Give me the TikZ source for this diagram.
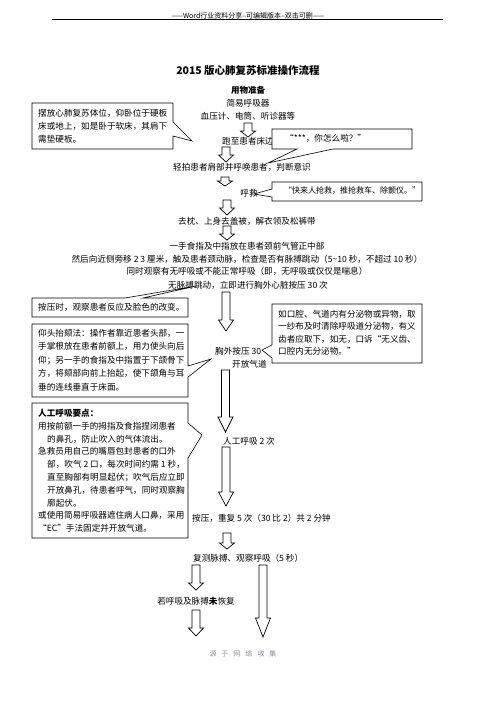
\documentclass[tikz,border=0pt]{standalone}
\usepackage{fontspec}
\setmainfont{Noto Sans CJK SC}
\newcommand\blockdown[4]{%
  \path[barrowstyle] (#1-4,#2) -- (#1+4,#2) -- (#1+4,#3) -- (#1+7.5,#3) -- (#1,#4) -- (#1-7.5,#3) -- (#1-4,#3) -- cycle;}
\tikzset{
  txt/.style={inner sep=0pt, font=\fontsize{8.6}{12.8}\selectfont},
  boxtxt/.style={inner sep=0pt, align=left, anchor=north west},
  callout/.style={draw, fill=white, line width=0.6pt, line join=miter},
  barrowstyle/.style={draw, fill=white, line width=0.7pt, line join=miter},
}
\begin{document}
\begin{tikzpicture}[x=1pt,y=-1pt]
\useasboundingbox (0,0) rectangle (496,702);
% header
\node[inner sep=0pt, font=\fontsize{7}{8}\selectfont] (hdr) at (248,16) {——Word行业资料分享--可编辑版本--双击可删——};
\draw[line width=0.6pt] (52,19.5) -- (443,19.5);
% title
\node[inner sep=0pt, font=\fontsize{10.5}{12}\selectfont\bfseries] (title) at (248,71) {2015 版心肺复苏标准操作流程};
\node[inner sep=0pt, font=\fontsize{8.5}{10}\selectfont\bfseries] (prep) at (248,90) {用物准备};
\node[txt] (t1) at (248,103) {简易呼吸器};
\node[txt] (t2) at (248,116) {血压计、电筒、听诊器等};
\node[txt] (t3) at (248,141) {跑至患者床边};
\node[txt] (t4) at (242,167) {轻拍患者肩部并呼唤患者，判断意识};
\node[txt] (t5) at (249,193) {呼救};
\node[txt] (t6) at (247,221) {去枕、上身去盖被，解衣领及松裤带};
\node[txt] (t7) at (247,246) {一手食指及中指放在患者颈前气管正中部};
\node[txt] (t8) at (247,259) {然后向近侧旁移 2 3 厘米，触及患者颈动脉，检查是否有脉搏跳动（5\textasciitilde10 秒，不超过 10 秒）};
\node[txt] (t9) at (247,271) {同时观察有无呼吸或不能正常呼吸（即，无呼吸或仅仅是喘息）};
\node[txt] (t10) at (248,285) {无脉搏跳动，立即进行胸外心脏按压 30 次};
\node[txt, anchor=west] (t11) at (215,351) {胸外按压 30};
\node[txt, anchor=west] (t12) at (232,364) {开放气道};
\node[txt, anchor=west] (t13) at (223,441) {人工呼吸 2 次};
\node[txt, anchor=west] (t14) at (192,518) {按压，重复 5 次（30 比 2）共 2 分钟};
\node[txt, anchor=west] (t15) at (193,558) {复测脉搏、观察呼吸（5 秒）};
\node[txt] (t16) at (196,601) {若呼吸及脉搏\textbf{未}恢复};
% block arrows
\blockdown{248}{123}{131}{137}
\blockdown{226}{147}{155}{162}
\blockdown{225}{177}{181}{186}
\blockdown{227}{200}{208}{215}
\blockdown{227}{226}{234}{240}
\blockdown{226}{292}{320}{331}
\blockdown{225.5}{370}{417}{432}
\blockdown{226}{447}{492}{506}
\blockdown{227}{533}{543}{549}
\blockdown{196}{565}{583}{590}
\blockdown{263}{565}{618}{637}
\blockdown{196}{610}{628}{636}
% callout 1
\path[callout] (32,103) -- (173,103) -- (173,122) -- (192,141) -- (173,136) -- (173,149) -- (32,149) -- cycle;
\node[boxtxt, font=\fontsize{8.6}{13}\selectfont] (c1) at (38,109) {摆放心肺复苏体位，仰卧位于硬板\\床或地上，如是卧于软床，其肩下\\需垫硬板。};
% callout 2
\path[callout] (272,129) -- (412,129) -- (412,149) -- (333,149) -- (268,163) -- (297,149) -- (272,149) -- cycle;
\node[txt, anchor=west] (c2) at (285,138.5) {“***，你怎么啦？”};
% callout 3
\path[callout] (272,182) -- (422,182) -- (422,201) -- (272,201) -- (272,197) -- (254,194) -- (272,189) -- cycle;
\node[txt, anchor=west, font=\fontsize{8}{10}\selectfont] (c3) at (284,191) {“快来人抢救，推抢救车、除颤仪。”};
% callout 4
\path[callout] (32,298) -- (125,298) -- (196,286) -- (143,298) -- (188,298) -- (188,317) -- (32,317) -- cycle;
\node[txt, anchor=west] (c4) at (38,307) {按压时，观察患者反应及脸色的改变。};
% callout 5
\path[callout] (32,324) -- (188,324) -- (188,366) -- (211,359) -- (188,377) -- (188,397) -- (32,397) -- cycle;
\node[boxtxt, font=\fontsize{8.6}{13.5}\selectfont] (c5) at (38,329) {仰头抬颏法：操作者靠近患者头部，一\\手掌根放在患者前额上，用力使头向后\\仰；另一手的食指及中指置于下颌骨下\\方，将颏部向前上抬起，使下颌角与耳\\垂的连线垂直于床面。};
% callout 6
\path[callout] (272,304) -- (422,304) -- (422,363) -- (272,363) -- (272,358) -- (262,350) -- (272,345) -- cycle;
\node[boxtxt, font=\fontsize{8.6}{12.3}\selectfont] (c6) at (278,310) {如口腔、气道内有分泌物或异物，取\\一纱布及时清除呼吸道分泌物，有义\\齿者应取下，如无，口诉“无义齿、\\口腔内无分泌物。”};
% callout 7
\path[callout] (32,403) -- (188,403) -- (188,423) -- (202,435) -- (188,458) -- (188,538) -- (32,538) -- cycle;
\node[boxtxt, font=\fontsize{8.6}{12.8}\selectfont] (c7) at (38,409) {\textbf{人工呼吸要点：}\\用按前额一手的拇指及食指捏闭患者\\\hspace*{9pt}的鼻孔，防止吹入的气体流出。\\急救员用自己的嘴唇包封患者的口外\\\hspace*{9pt}部，吹气 2 口，每次时间约需 1 秒，\\\hspace*{9pt}直至胸部有明显起伏；吹气后应立即\\\hspace*{9pt}开放鼻孔，待患者呼气，同时观察胸\\\hspace*{9pt}廓起伏。\\或使用简易呼吸器遮住病人口鼻，采用\\“EC”手法固定并开放气道。};
% footer
\node[inner sep=0pt, text={rgb,1:red,0.55;green,0.55;blue,0.62}, font=\fontsize{7}{8}\selectfont] (ftr) at (243,654) {源\hspace{5pt}于\hspace{5pt}网\hspace{5pt}络\hspace{5pt}收\hspace{5pt}集};
\end{tikzpicture}
\end{document}
